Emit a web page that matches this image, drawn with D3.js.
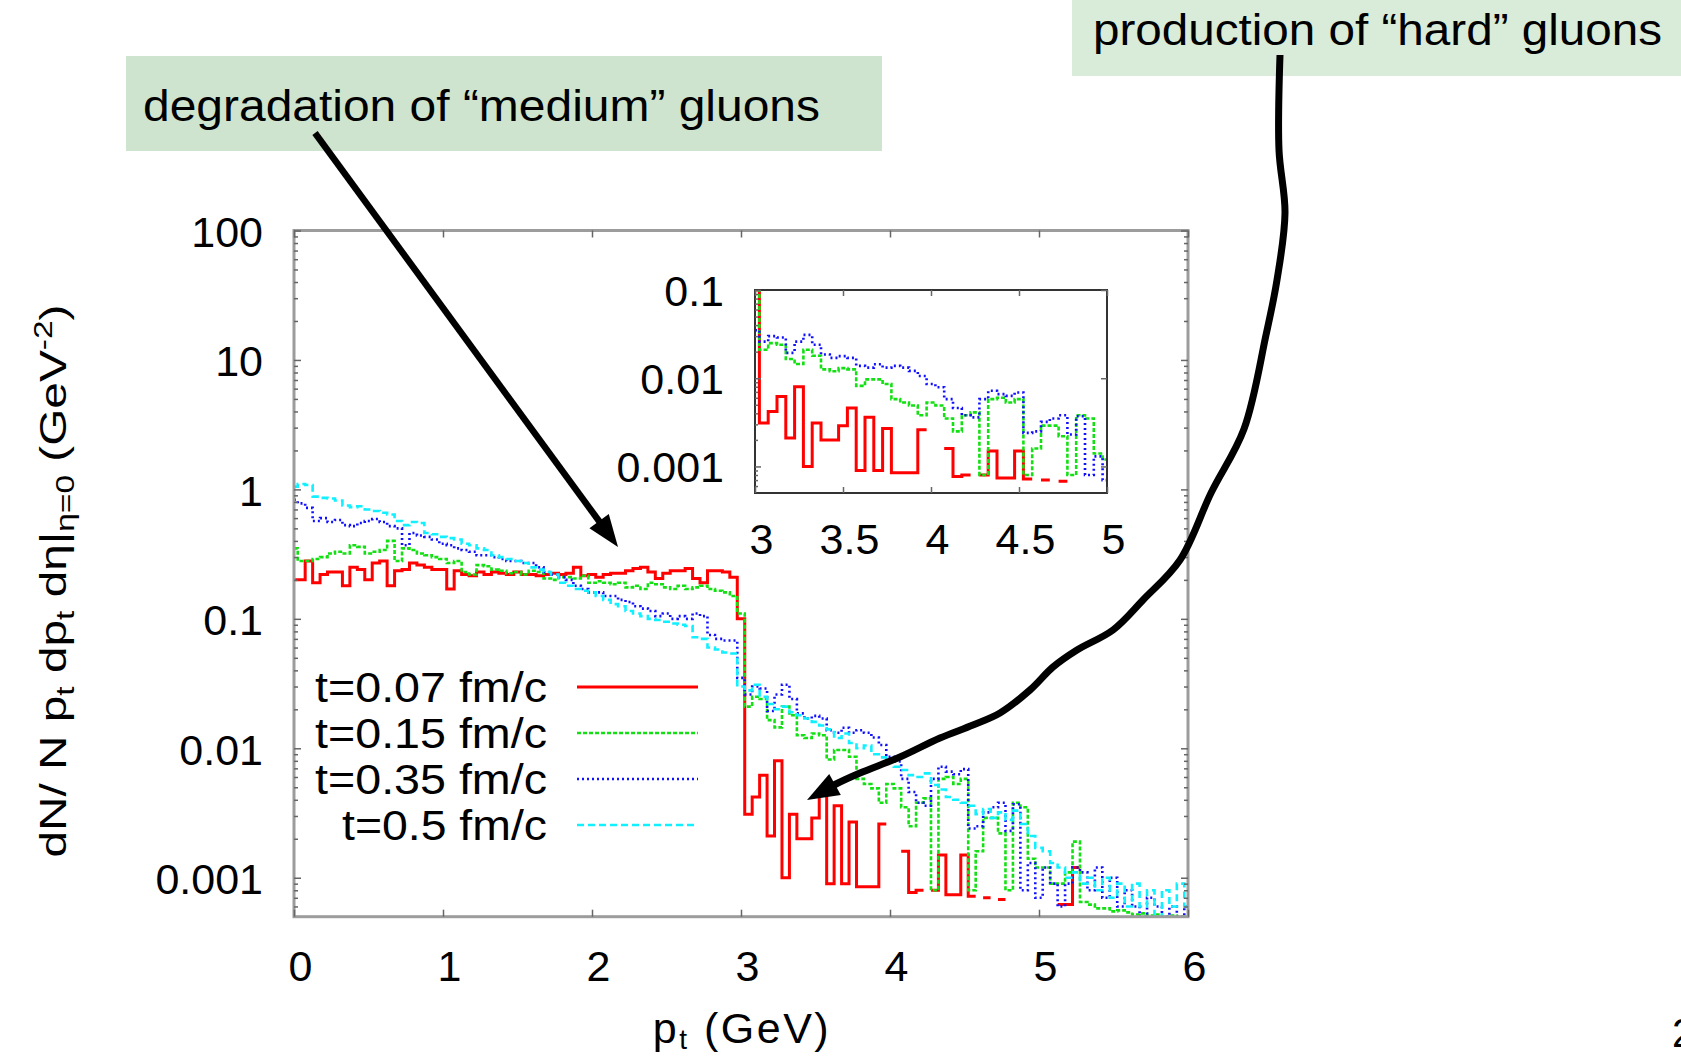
<!DOCTYPE html>
<html>
<head>
<meta charset="utf-8">
<script src="https://cdn.jsdelivr.net/npm/d3@7"></script>
<style>
  body { margin: 0; background: #fff; }
  svg { display: block; font-family: "Liberation Sans", Arial, Helvetica, sans-serif; }
</style>
</head>
<body>
<svg id="chart" width="1681" height="1058"></svg>
<script>
// histogram bins: centre k * binWidth, k = 0..120 (pt from 0 to 6 GeV)
const binWidth = 0.05;

// dN/(N pt dpt deta) per bin, null = empty bin (not drawn on log axis)
const t007 = [
  0.20, 0.20, 0.28, 0.19, 0.22, 0.23, 0.23, 0.18, 0.25, 0.24,
  0.20, 0.27, 0.28, 0.18, 0.235, 0.24, 0.27, 0.26, 0.25, 0.24,
  0.24, 0.17, 0.235, 0.22, 0.215, 0.23, 0.22, 0.23, 0.225, 0.22,
  0.23, 0.22, 0.22, 0.215, 0.22, 0.225, 0.22, 0.225, 0.25, 0.215,
  0.22, 0.21, 0.22, 0.225, 0.225, 0.235, 0.245, 0.25, 0.23, 0.205,
  0.225, 0.235, 0.235, 0.245, 0.205, 0.19, 0.235, 0.235, 0.23, 0.21,
  0.10, 0.0031, 0.0042, 0.0062, 0.0021, 0.0080, 0.0010, 0.0031, 0.0020, 0.0020,
  0.0029, 0.0046, 0.0009, 0.0036, 0.0009, 0.0027, 0.00085, 0.00085, 0.00085, 0.0026,
  null, null, 0.0016, 0.00077, 0.00080, null, 0.00080, 0.0015, 0.00074, 0.00074,
  0.0015, 0.00072, null, 0.00070, null, 0.00068, null, null, null, null,
  null, null, null, 0.00062, 0.00062, 0.0012, null, null, null, null,
  null, null, null, null, null, null, null, null, null, null,
  null
];
const t015 = [
  0.35, 0.28, 0.28, 0.29, 0.30, 0.32, 0.33, 0.32, 0.37, 0.36,
  0.32, 0.33, 0.34, 0.40, 0.28, 0.35, 0.34, 0.32, 0.31, 0.30,
  0.29, 0.27, 0.28, 0.23, 0.22, 0.26, 0.255, 0.24, 0.235, 0.225,
  0.23, 0.22, 0.235, 0.23, 0.205, 0.20, 0.21, 0.21, 0.205, 0.215,
  0.19, 0.195, 0.19, 0.185, 0.19, 0.175, 0.18, 0.17, 0.19, 0.185,
  0.175, 0.17, 0.18, 0.17, 0.175, 0.18, 0.17, 0.165, 0.16, 0.15,
  0.11, 0.021, 0.025, 0.024, 0.0165, 0.0145, 0.021, 0.018, 0.0126, 0.012,
  0.013, 0.0126, 0.0082, 0.0097, 0.0097, 0.0086, 0.0058, 0.0053, 0.0049, 0.0038,
  0.0053, 0.0049, 0.0035, 0.0025, 0.0038, 0.0041, 0.0008, 0.0058, 0.0060, 0.0053,
  0.0058, 0.0008, 0.0016, 0.0029, 0.0029, 0.0022, 0.0008, 0.0038, 0.0035, 0.0014,
  0.0012, 0.0012, 0.0009, 0.0009, 0.0011, 0.0019, 0.00065, 0.00062, 0.00058, 0.00058,
  0.00055, 0.00056, 0.00054, 0.00052, 0.00053, 0.00051, 0.00052, 0.0005, 0.00051, 0.0005,
  0.0005
];
const t035 = [
  0.83, 0.78, 0.72, 0.57, 0.60, 0.56, 0.58, 0.53, 0.52, 0.55,
  0.57, 0.59, 0.56, 0.52, 0.50, 0.37, 0.46, 0.44, 0.43, 0.41,
  0.38, 0.37, 0.35, 0.34, 0.33, 0.31, 0.31, 0.30, 0.29, 0.28,
  0.28, 0.27, 0.27, 0.25, 0.23, 0.22, 0.21, 0.20, 0.18, 0.17,
  0.16, 0.16, 0.15, 0.15, 0.14, 0.135, 0.125, 0.12, 0.115, 0.105,
  0.11, 0.10, 0.105, 0.10, 0.11, 0.105, 0.075, 0.07, 0.068, 0.068,
  0.035, 0.026, 0.030, 0.029, 0.0194, 0.026, 0.031, 0.024, 0.0186, 0.017,
  0.0178, 0.017, 0.0138, 0.0132, 0.0144, 0.0132, 0.0138, 0.0132, 0.0121, 0.0106,
  0.0086, 0.0079, 0.0058, 0.0046, 0.0038, 0.0036, 0.0058, 0.0072, 0.0066, 0.0063,
  0.0069, 0.0024, 0.0025, 0.0032, 0.0035, 0.0038, 0.0023, 0.0037, 0.0008, 0.0013,
  0.0007, 0.0012, 0.0009, 0.0006, 0.0009, 0.0012, 0.0011, 0.0008, 0.0012, 0.0007,
  0.0010, 0.0006, 0.0008, 0.0006, 0.0005, 0.0007, 0.0006, 0.0005, 0.0006, 0.0005,
  0.0006
];
const t050 = [
  1.05, 1.10, 1.08, 0.88, 0.86, 0.85, 0.82, 0.75, 0.73, 0.74,
  0.70, 0.68, 0.66, 0.64, 0.57, 0.53, 0.56, 0.55, 0.46, 0.45,
  0.43, 0.42, 0.41, 0.38, 0.37, 0.35, 0.34, 0.31, 0.30, 0.29,
  0.28, 0.27, 0.25, 0.24, 0.23, 0.22, 0.19, 0.18, 0.17, 0.165,
  0.16, 0.15, 0.14, 0.13, 0.125, 0.115, 0.11, 0.105, 0.10, 0.098,
  0.095, 0.092, 0.09, 0.088, 0.072, 0.07, 0.06, 0.058, 0.055, 0.054,
  0.030, 0.028, 0.031, 0.025, 0.022, 0.020, 0.021, 0.019, 0.018, 0.017,
  0.016, 0.015, 0.014, 0.012, 0.013, 0.011, 0.010, 0.0105, 0.009, 0.0085,
  0.008, 0.0072, 0.0068, 0.0062, 0.006, 0.0064, 0.0052, 0.0048, 0.0042, 0.0040,
  0.0038, 0.0036, 0.0031, 0.0034, 0.0029, 0.0032, 0.0028, 0.0033, 0.0026, 0.0021,
  0.0017, 0.0016, 0.0013, 0.0012, 0.0010, 0.0011, 0.0009, 0.0010, 0.0008, 0.0010,
  0.0007, 0.0009, 0.0006, 0.0009, 0.0006, 0.0008, 0.0005, 0.0008, 0.0006, 0.0009,
  0.0006
];

const seriesNames = ["t=0.07 fm/c", "t=0.15 fm/c", "t=0.35 fm/c", "t=0.5 fm/c"];

// axis ticks
const yMajor = [0.001, 0.01, 0.1, 1, 10, 100];
const yMajorLabels = ["0.001", "0.01", "0.1", "1", "10", "100"];
const xMajor = [0, 1, 2, 3, 4, 5, 6];
const insetYMajor = [0.001, 0.01, 0.1];
const insetYLabels = ["0.001", "0.01", "0.1"];
const insetXMajor = [3, 3.5, 4, 4.5, 5];
const insetXLabels = ["3", "3.5", "4", "4.5", "5"];

const FONT = '"Liberation Sans", Arial, Helvetica, sans-serif';

const svg = d3.select("#chart");

// line styles for each series (gnuplot-like)
const styles = [
  {color: "#ff0000", dash: null, width: 3},
  {color: "#12e012", dash: "4,2", width: 2.6},
  {color: "#1010ff", dash: "2,3", width: 2.6},
  {color: "#10f0ff", dash: "7,4", width: 2.6}
];
const allSeries = [t007, t015, t035, t050];

// ---------- annotation boxes (behind everything) ----------
svg.append("rect").attr("x", 126).attr("y", 56).attr("width", 756).attr("height", 95).attr("fill", "#cee4cf");
svg.append("rect").attr("x", 1072).attr("y", 0).attr("width", 609).attr("height", 76).attr("fill", "#d9ebd9");

svg.append("text").attr("x", 143).attr("y", 121)
  .attr("textLength", 677).attr("lengthAdjust", "spacingAndGlyphs")
  .style("font-size", "44px").text("degradation of \u201cmedium\u201d gluons");
svg.append("text").attr("x", 1093).attr("y", 45)
  .attr("textLength", 569).attr("lengthAdjust", "spacingAndGlyphs")
  .style("font-size", "44px").text("production of \u201chard\u201d gluons");

// ---------- main plot ----------
const main = {left: 294, right: 1188, top: 230.5, bottom: 916.7};
const x = d3.scaleLinear().domain([0, 6]).range([main.left, main.right]);
const y = d3.scaleLog().domain([0.0005, 100]).range([main.bottom, main.top]);

// minor log ticks 2..9 inside a domain
function minorTicks(lo, hi) {
  const out = [];
  for (let e = -4; e <= 2; e++) {
    for (let m = 2; m <= 9; m++) {
      const v = m * Math.pow(10, e);
      if (v > lo * 1.0001 && v < hi * 0.9999) out.push(v);
    }
  }
  return out;
}

function styleTicks(g) {
  g.select(".domain").remove();
  g.selectAll(".tick line").attr("stroke", "#666").attr("stroke-width", 1.5);
  g.selectAll(".tick text").attr("fill", "#000").style("font-size", "43px").style("font-family", FONT);
}

// build step (histeps) points for a series between lo and hi
function steps(vals, lo, hi) {
  const pts = [];
  vals.forEach((v, k) => {
    const c = k * binWidth;
    const x0 = Math.max(lo, c - binWidth / 2);
    const x1 = Math.min(hi, c + binWidth / 2);
    if (x1 <= x0 + 1e-9) return;
    if (v == null) { pts.push({x: x0, v: null}); return; }
    pts.push({x: x0, v: v}, {x: x1, v: v});
  });
  return pts;
}

svg.append("defs").append("clipPath").attr("id", "clipMain")
  .append("rect").attr("x", main.left).attr("y", main.top)
  .attr("width", main.right - main.left).attr("height", main.bottom - main.top);

const line = d3.line().defined(d => d.v != null).x(d => x(d.x)).y(d => y(d.v));

const curves = svg.append("g").attr("clip-path", "url(#clipMain)");
allSeries.forEach((vals, i) => {
  curves.append("path")
    .datum(steps(vals, 0, 6))
    .attr("fill", "none")
    .attr("stroke", styles[i].color)
    .attr("stroke-width", styles[i].width)
    .attr("stroke-dasharray", styles[i].dash)
    .attr("d", line);
});

// frame
svg.append("rect").attr("x", main.left).attr("y", main.top)
  .attr("width", main.right - main.left).attr("height", main.bottom - main.top)
  .attr("fill", "none").attr("stroke", "#9c9c9c").attr("stroke-width", 3);

// axes
svg.append("g").attr("transform", `translate(${main.left},0)`)
  .call(d3.axisLeft(y).tickValues(yMajor).tickFormat((d, i) => yMajorLabels[i]).tickSizeInner(-7).tickSizeOuter(0).tickPadding(31))
  .call(g => styleTicks(g))
  .call(g => g.selectAll(".tick text").attr("dy", "0.37em"));
svg.append("g").attr("transform", `translate(${main.left},0)`)
  .call(d3.axisLeft(y).tickValues(minorTicks(0.0005, 100)).tickFormat("").tickSizeInner(-4).tickSizeOuter(0))
  .call(g => styleTicks(g));
svg.append("g").attr("transform", `translate(${main.right},0)`)
  .call(d3.axisRight(y).tickValues(yMajor).tickFormat("").tickSizeInner(-7).tickSizeOuter(0))
  .call(g => styleTicks(g));
svg.append("g").attr("transform", `translate(${main.right},0)`)
  .call(d3.axisRight(y).tickValues(minorTicks(0.0005, 100)).tickFormat("").tickSizeInner(-4).tickSizeOuter(0))
  .call(g => styleTicks(g));
svg.append("g").attr("transform", `translate(0,${main.bottom})`)
  .call(d3.axisBottom(x).tickValues(xMajor).tickFormat(d3.format("d")).tickSizeInner(-7).tickSizeOuter(0).tickPadding(34))
  .call(g => styleTicks(g))
  .call(g => g.selectAll(".tick text").attr("dx", 6));
svg.append("g").attr("transform", `translate(0,${main.top})`)
  .call(d3.axisTop(x).tickValues(xMajor).tickFormat("").tickSizeInner(-7).tickSizeOuter(0))
  .call(g => styleTicks(g));

// axis titles
const xt = svg.append("text").attr("x", 742).attr("y", 1043).attr("text-anchor", "middle")
  .style("font-size", "43px").style("letter-spacing", "2.5px");
xt.append("tspan").text("p");
xt.append("tspan").attr("dy", 6).style("font-size", "28px").text("t");
xt.append("tspan").attr("dy", -6).text(" (GeV)");

const yt = svg.append("text").attr("transform", "translate(66,581) rotate(-90)")
  .attr("text-anchor", "middle")
  .attr("textLength", 553).attr("lengthAdjust", "spacingAndGlyphs")
  .style("font-size", "37px");
yt.append("tspan").text("dN/ N p");
yt.append("tspan").attr("dy", 8).style("font-size", "26px").text("t");
yt.append("tspan").attr("dy", -8).text(" dp");
yt.append("tspan").attr("dy", 8).style("font-size", "26px").text("t");
yt.append("tspan").attr("dy", -8).text(" d\u03b7|");
yt.append("tspan").attr("dy", 8).style("font-size", "26px").text("\u03b7=0");
yt.append("tspan").attr("dy", -8).text(" (GeV");
yt.append("tspan").attr("dy", -14).style("font-size", "26px").text("-2");
yt.append("tspan").attr("dy", 14).text(")");

// legend
const legRows = [702, 748, 794, 840];
seriesNames.forEach((name, i) => {
  svg.append("text").attr("x", 547).attr("y", legRows[i]).attr("text-anchor", "end")
    .attr("textLength", i === 3 ? 205 : 232).attr("lengthAdjust", "spacingAndGlyphs")
    .style("font-size", "42px").text(name);
  svg.append("line").attr("x1", 577).attr("x2", 698)
    .attr("y1", legRows[i] - 15).attr("y2", legRows[i] - 15)
    .attr("stroke", styles[i].color).attr("stroke-width", styles[i].width)
    .attr("stroke-dasharray", styles[i].dash);
});

// ---------- inset (3 - 5 GeV) ----------
const ins = {left: 755, right: 1107, top: 290, bottom: 493};
const xi = d3.scaleLinear().domain([3, 5]).range([ins.left, ins.right]);
const yi = d3.scaleLog().domain([0.0005, 0.1]).range([ins.bottom, ins.top]);

svg.append("rect").attr("x", ins.left).attr("y", ins.top)
  .attr("width", ins.right - ins.left).attr("height", ins.bottom - ins.top).attr("fill", "#fff");
svg.select("defs").append("clipPath").attr("id", "clipInset")
  .append("rect").attr("x", ins.left).attr("y", ins.top - 1)
  .attr("width", ins.right - ins.left).attr("height", ins.bottom - ins.top + 1);

const lineInset = d3.line().defined(d => d.v != null).x(d => xi(d.x)).y(d => yi(d.v));
const insetCurves = svg.append("g").attr("clip-path", "url(#clipInset)");
// inset shows only the first three times
[t007, t015, t035].forEach((vals, i) => {
  insetCurves.append("path")
    .datum(steps(vals, 3, 5))
    .attr("fill", "none")
    .attr("stroke", styles[i].color)
    .attr("stroke-width", styles[i].width)
    .attr("stroke-dasharray", styles[i].dash)
    .attr("d", lineInset);
});

svg.append("rect").attr("x", ins.left).attr("y", ins.top)
  .attr("width", ins.right - ins.left).attr("height", ins.bottom - ins.top)
  .attr("fill", "none").attr("stroke", "#333").attr("stroke-width", 2);

svg.append("g").attr("transform", `translate(${ins.left},0)`)
  .call(d3.axisLeft(yi).tickValues(insetYMajor).tickFormat((d, i) => insetYLabels[i]).tickSizeInner(-6).tickSizeOuter(0).tickPadding(31))
  .call(g => styleTicks(g))
  .call(g => g.selectAll(".tick text").attr("dy", "0.35em"));
svg.append("g").attr("transform", `translate(${ins.left},0)`)
  .call(d3.axisLeft(yi).tickValues(minorTicks(0.0005, 0.1)).tickFormat("").tickSizeInner(-3).tickSizeOuter(0))
  .call(g => styleTicks(g));
svg.append("g").attr("transform", `translate(${ins.right},0)`)
  .call(d3.axisRight(yi).tickValues(insetYMajor).tickFormat("").tickSizeInner(-6).tickSizeOuter(0))
  .call(g => styleTicks(g));
svg.append("g").attr("transform", `translate(0,${ins.bottom})`)
  .call(d3.axisBottom(xi).tickValues(insetXMajor).tickFormat((d, i) => insetXLabels[i]).tickSizeInner(-6).tickSizeOuter(0).tickPadding(30))
  .call(g => styleTicks(g))
  .call(g => g.selectAll(".tick text").attr("dx", 6));
svg.append("g").attr("transform", `translate(0,${ins.top})`)
  .call(d3.axisTop(xi).tickValues(insetXMajor).tickFormat("").tickSizeInner(-6).tickSizeOuter(0))
  .call(g => styleTicks(g));

// ---------- arrows ----------
function arrowHead(tip, from, len, wid) {
  const dx = tip[0] - from[0], dy = tip[1] - from[1];
  const n = Math.hypot(dx, dy);
  const ux = dx / n, uy = dy / n;
  const bx = tip[0] - ux * len, by = tip[1] - uy * len;
  const px = -uy * wid / 2, py = ux * wid / 2;
  svg.append("path")
    .attr("d", `M${tip[0]},${tip[1]}L${bx + px},${by + py}L${bx - px},${by - py}Z`)
    .attr("fill", "#000");
  return [bx + ux * 2, by + uy * 2];
}

// straight arrow to the red plateau
const a1Start = [315, 133], a1Tip = [618, 547];
const a1Base = arrowHead(a1Tip, a1Start, 32, 24);
svg.append("line").attr("x1", a1Start[0]).attr("y1", a1Start[1])
  .attr("x2", a1Base[0]).attr("y2", a1Base[1])
  .attr("stroke", "#000").attr("stroke-width", 6.5);

// hand drawn curved arrow to the hard tail
const a2Pts = [[1280, 55], [1279, 150], [1285, 213], [1277, 280], [1266, 335], [1244, 429],
  [1211, 493], [1180, 560], [1143, 600], [1113, 630], [1077, 650], [1053, 667], [1030, 690],
  [1000, 713], [973, 725], [940, 738], [900, 757], [860, 773], [836, 784]];
const a2Tip = [807, 800];
const a2Base = arrowHead(a2Tip, a2Pts[a2Pts.length - 1], 32, 24);
svg.append("path")
  .datum(a2Pts.concat([a2Base]))
  .attr("d", d3.line().curve(d3.curveCatmullRom))
  .attr("fill", "none").attr("stroke", "#000").attr("stroke-width", 7)
  .attr("stroke-linejoin", "round");

// page number, cut at the right edge like the slide
svg.append("text").attr("x", 1672).attr("y", 1047).style("font-size", "40px").text("2");
</script>
</body>
</html>
